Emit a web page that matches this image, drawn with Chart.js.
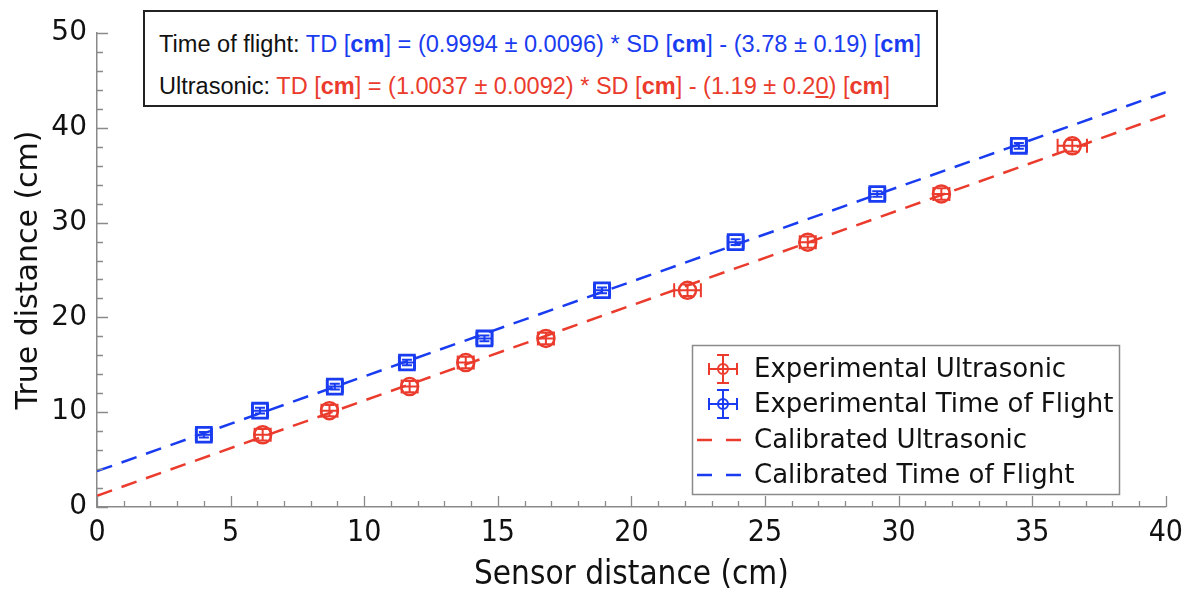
<!DOCTYPE html>
<html>
<head>
<meta charset="utf-8">
<script src="https://cdn.jsdelivr.net/npm/chart.js@4.4.1/dist/chart.umd.min.js"></script>
<style>
html, body { margin: 0; padding: 0; background: #fff; }
#wrap { position: relative; width: 1191px; height: 598px; }
#eq { position: absolute; left: 143px; top: 10px; width: 795px; height: 97px; box-sizing: border-box;
      border: 2px solid #222; background: #fff; font-family: "Liberation Sans", Arial, sans-serif; font-size: 23px; }
#eq .ln { position: absolute; left: 14px; white-space: nowrap; line-height: 26px; transform-origin: 0 50%; color: #111; }
.b { color: #1a3cf0; }
.r { color: #ea3b2d; }
</style>
</head>
<body>
<div id="wrap">
  <canvas id="chart" width="1191" height="598"></canvas>
  <div id="eq">
    <div class="ln" id="l1" style="top:19px">Time of flight: <span class="b">TD [<b>cm</b>] = (0.9994 ± 0.0096) * SD [<b>cm</b>] - (3.78 ± 0.19) [<b>cm</b>]</span></div>
    <div class="ln" id="l2" style="top:61px">Ultrasonic: <span class="r">TD [<b>cm</b>] = (1.0037 ± 0.0092) * SD [<b>cm</b>] - (1.19 ± 0.2<u>0</u>) [<b>cm</b>]</span></div>
  </div>
</div>
<script>
// measured points (sensor reading vs. true distance, cm)
const trueDist = [7.62, 10.16, 12.7, 15.24, 17.78, 22.86, 27.94, 33.02, 38.1];
const sensorUltra = [6.2, 8.7, 11.7, 13.8, 16.8, 22.1, 26.6, 31.6, 36.5];
const xerrUltra = [0.3, 0.3, 0.3, 0.3, 0.3, 0.5, 0.3, 0.3, 0.55];
const yerrUltra = [0.6, 0.6, 0.6, 0.6, 0.6, 0.6, 0.6, 0.6, 0.6];
const sensorTof = [4.0, 6.1, 8.9, 11.6, 14.5, 18.9, 23.9, 29.2, 34.5];
const xerrTof = [0.3, 0.3, 0.3, 0.3, 0.3, 0.3, 0.3, 0.3, 0.3];
const yerrTof = [0.3, 0.3, 0.3, 0.3, 0.3, 0.3, 0.3, 0.3, 0.3];

// calibration line end points
const calX = [0, 40];
const calUltraY = [1.19, 41.34];
const calTofY = [3.78, 43.76];

const legendLabels = ['Experimental Ultrasonic', 'Experimental Time of Flight', 'Calibrated Ultrasonic', 'Calibrated Time of Flight'];

const RED = '#ea3b2d';
const BLUE = '#1a3cf0';

// fit the equation lines into the box
[['l1', 762], ['l2', 731]].forEach(([id, w]) => {
  const el = document.getElementById(id);
  el.style.transform = 'scaleX(' + (w / el.getBoundingClientRect().width) + ')';
});

const pts = (xs, ys) => xs.map((x, i) => ({ x: x, y: ys[i] }));

const errorBars = {
  id: 'errorBars',
  afterDatasetsDraw(chart) {
    const { ctx, scales: { x, y } } = chart;
    ctx.save();
    ctx.lineWidth = 2;
    chart.data.datasets.forEach(ds => {
      if (!ds.xerr) return;
      ctx.strokeStyle = ds.borderColor;
      ds.data.forEach((p, i) => {
        const cx = x.getPixelForValue(p.x), cy = y.getPixelForValue(p.y);
        const x0 = x.getPixelForValue(p.x - ds.xerr[i]), x1 = x.getPixelForValue(p.x + ds.xerr[i]);
        const y0 = y.getPixelForValue(p.y - ds.yerr[i]), y1 = y.getPixelForValue(p.y + ds.yerr[i]);
        ctx.beginPath();
        ctx.moveTo(x0, cy); ctx.lineTo(x1, cy);
        ctx.moveTo(x0, cy - 7); ctx.lineTo(x0, cy + 7);
        ctx.moveTo(x1, cy - 7); ctx.lineTo(x1, cy + 7);
        ctx.moveTo(cx, y0); ctx.lineTo(cx, y1);
        ctx.moveTo(cx - 5, y0); ctx.lineTo(cx + 5, y0);
        ctx.moveTo(cx - 5, y1); ctx.lineTo(cx + 5, y1);
        ctx.stroke();
      });
    });
    ctx.restore();
  }
};

// inward ticks, majors and minors
const innerTicks = {
  id: 'innerTicks',
  afterDraw(chart) {
    const { ctx, scales: { x, y } } = chart;
    ctx.save();
    ctx.strokeStyle = '#8a8a8a';
    ctx.lineWidth = 1.3;
    ctx.beginPath();
    for (let v = 0; v <= 40; v++) {
      const px = Math.round(x.getPixelForValue(v)) + 0.5;
      const len = v % 5 === 0 ? 11 : 6;
      ctx.moveTo(px, y.bottom); ctx.lineTo(px, y.bottom - len);
    }
    for (let v = 0; v <= 50; v += 2) {
      const py = Math.round(y.getPixelForValue(v)) + 0.5;
      const len = v % 10 === 0 ? 11 : 6;
      ctx.moveTo(x.left, py); ctx.lineTo(x.left + len, py);
    }
    ctx.stroke();
    ctx.restore();
  }
};

const boxLegend = {
  id: 'boxLegend',
  afterDraw(chart) {
    const ctx = chart.ctx;
    ctx.save();
    ctx.fillStyle = '#fff';
    ctx.fillRect(692, 345, 427, 149);
    ctx.strokeStyle = '#8a8a8a';
    ctx.lineWidth = 1.5;
    ctx.strokeRect(692.5, 345.5, 427, 149);
    const rows = [369, 404, 440, 475];
    const cols = [RED, BLUE, RED, BLUE];
    rows.forEach((ry, i) => {
      ctx.strokeStyle = cols[i];
      ctx.lineWidth = 2;
      ctx.beginPath();
      if (i < 2) {
        const cx = 723;
        ctx.moveTo(cx - 14, ry); ctx.lineTo(cx + 14, ry);
        ctx.moveTo(cx - 14, ry - 6); ctx.lineTo(cx - 14, ry + 6);
        ctx.moveTo(cx + 14, ry - 6); ctx.lineTo(cx + 14, ry + 6);
        ctx.moveTo(cx, ry - 14); ctx.lineTo(cx, ry + 14);
        ctx.moveTo(cx - 6, ry - 14); ctx.lineTo(cx + 6, ry - 14);
        ctx.moveTo(cx - 6, ry + 14); ctx.lineTo(cx + 6, ry + 14);
        ctx.moveTo(cx + 5, ry);
        ctx.arc(cx, ry, 5, 0, Math.PI * 2);
      } else {
        ctx.lineWidth = 2.5;
        ctx.moveTo(697, ry); ctx.lineTo(712, ry);
        ctx.moveTo(726, ry); ctx.lineTo(741, ry);
      }
      ctx.stroke();
      ctx.fillStyle = '#111';
      ctx.font = '26px "DejaVu Sans"';
      ctx.textBaseline = 'middle';
      ctx.fillText(legendLabels[i], 754, ry + 1);
    });
    ctx.restore();
  }
};

new Chart(document.getElementById('chart'), {
  type: 'scatter',
  data: {
    datasets: [
      { label: legendLabels[2], type: 'line', data: pts(calX, calUltraY), borderColor: RED, borderWidth: 2.5,
        borderDash: [16, 10], pointRadius: 0, fill: false },
      { label: legendLabels[3], type: 'line', data: pts(calX, calTofY), borderColor: BLUE, borderWidth: 2.5,
        borderDash: [16, 10], pointRadius: 0, fill: false },
      { label: legendLabels[0], data: pts(sensorUltra, trueDist), xerr: xerrUltra, yerr: yerrUltra,
        borderColor: RED, backgroundColor: 'rgba(255,255,255,0)', pointStyle: 'circle', pointRadius: 8.5, pointBorderWidth: 2.5 },
      { label: legendLabels[1], data: pts(sensorTof, trueDist), xerr: xerrTof, yerr: yerrTof,
        borderColor: BLUE, backgroundColor: 'rgba(255,255,255,0)', pointStyle: 'rect', pointRadius: 10.5, pointBorderWidth: 2.8 }
    ]
  },
  options: {
    responsive: false,
    animation: false,
    layout: { padding: { top: 33, right: 24, left: 0, bottom: 0 } },
    plugins: { legend: { display: false }, tooltip: { enabled: false } },
    scales: {
      x: {
        type: 'linear', min: 0, max: 40,
        afterFit: s => { s.height = 91; },
        ticks: { stepSize: 5, color: '#111', padding: 8, font: { family: '"DejaVu Sans Condensed", "DejaVu Sans"', size: 30 } },
        grid: { display: false, drawTicks: false },
        border: { color: '#8a8a8a', width: 1.5 },
        title: { display: true, text: 'Sensor distance (cm)', color: '#111', padding: { top: 0, bottom: 3 },
                 font: { family: '"DejaVu Sans Condensed", "DejaVu Sans"', size: 33 } }
      },
      y: {
        min: 0, max: 50,
        afterFit: s => { s.width = 97; },
        ticks: { stepSize: 10, color: '#111', padding: 10, font: { family: '"DejaVu Sans"', size: 28 } },
        grid: { display: false, drawTicks: false },
        border: { color: '#8a8a8a', width: 1.5 },
        title: { display: true, text: 'True distance (cm)', color: '#111', padding: { top: 11, bottom: 0 },
                 font: { family: '"DejaVu Sans"', size: 30 } }
      }
    }
  },
  plugins: [errorBars, innerTicks, boxLegend]
});
</script>
</body>
</html>
